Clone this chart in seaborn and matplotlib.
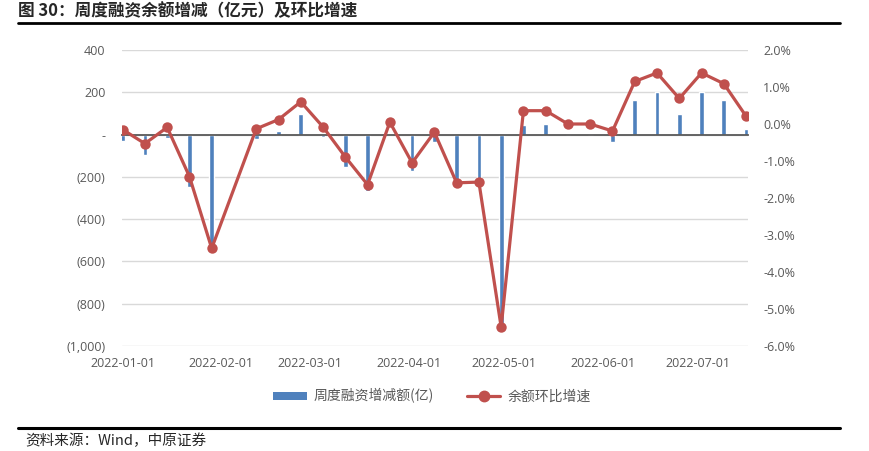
import numpy as np
import pandas as pd
import matplotlib
matplotlib.use('Agg')
import matplotlib.pyplot as plt
import matplotlib.ticker as mticker
from matplotlib.lines import Line2D
from matplotlib.patches import Patch
import seaborn as sns

# 周度数据（春节周 2022-02-05 缺失）
dates = ['2022-01-01', '2022-01-08', '2022-01-15', '2022-01-22', '2022-01-29',
         '2022-02-12', '2022-02-19', '2022-02-26', '2022-03-05', '2022-03-12',
         '2022-03-19', '2022-03-26', '2022-04-02', '2022-04-09', '2022-04-16',
         '2022-04-23', '2022-04-30', '2022-05-07', '2022-05-14', '2022-05-21',
         '2022-05-28', '2022-06-04', '2022-06-11', '2022-06-18', '2022-06-25',
         '2022-07-02', '2022-07-09', '2022-07-16']

# 周度融资增减额（亿）
change = [-30, -97, -18, -248, -560, -20, 15, 97, -13, -152,
          -269, 5, -173, -37, -228, -232, -900, 45, 50, 2,
          2, -35, 163, 200, 97, 202, 162, 27]

# 余额环比增速（%）
growth = [-0.15, -0.53, -0.09, -1.42, -3.36, -0.13, 0.12, 0.60, -0.08, -0.89,
          -1.64, 0.05, -1.05, -0.22, -1.59, -1.57, -5.49, 0.36, 0.36, 0.00,
          0.00, -0.19, 1.15, 1.38, 0.69, 1.38, 1.09, 0.21]

month_labels = ['2022-01-01', '2022-02-01', '2022-03-01', '2022-04-01',
                '2022-05-01', '2022-06-01', '2022-07-01']

left_ticks = [-1000, -800, -600, -400, -200, 0, 200, 400]
right_ticks = [-6, -5, -4, -3, -2, -1, 0, 1, 2]

BLUE = '#4F81BD'
RED = '#C0504D'
GREY = '#595959'

sns.set_style('white')
plt.rcParams['font.family'] = ['Open Sans', 'Noto Sans CJK SC', 'DejaVu Sans']
plt.rcParams['axes.unicode_minus'] = False
cjk = ['Noto Sans CJK SC', 'DejaVu Sans']

start = pd.Timestamp('2022-01-01')
df = pd.DataFrame({
    'day': (pd.to_datetime(dates) - start).days.astype(float),
    'change': change,
    'growth': np.array(growth) / 100,
})
month_days = (pd.to_datetime(month_labels) - start).days.astype(float)

W, H = 870, 451
fig = plt.figure(figsize=(W / 100, H / 100), dpi=100)
ax = fig.add_axes([122 / W, 1 - 346 / H, (748 - 122) / W, (346 - 50) / H])

# 柱状图：周度融资增减额
sns.barplot(data=df, x='day', y='change', native_scale=True, width=0.21,
            color=BLUE, saturation=1, errorbar=None, ax=ax)
ax.set_ylim(-1000, 400)
ax.set_xlim(-0.2, 196.6)
ax.set_xlabel('')
ax.set_ylabel('')


def left_fmt(v, pos):
    v = int(round(v))
    if v == 0:
        return '-'
    if v < 0:
        return f'({-v:,})'
    return f'{v:,}'


ax.set_yticks(left_ticks)
ax.yaxis.set_major_formatter(mticker.FuncFormatter(left_fmt))
ax.tick_params(axis='y', length=0, pad=12, labelsize=9, labelcolor=GREY)
ax.yaxis.grid(True, color='#D9D9D9', lw=1)
ax.xaxis.grid(False)
ax.set_axisbelow(True)
for s in ['top', 'left', 'right']:
    ax.spines[s].set_visible(False)
ax.spines['bottom'].set_position(('data', 0))
ax.spines['bottom'].set_color(GREY)
ax.spines['bottom'].set_linewidth(1.3)
ax.set_xticks(month_days)
ax.tick_params(axis='x', length=4, width=1, color=GREY, direction='out',
               labelbottom=False)

# 日期标签放在图底部
sec = ax.secondary_xaxis('bottom')
sec.set_xticks(month_days, labels=month_labels)
sec.tick_params(length=0, pad=8, labelsize=9, labelcolor=GREY)
sec.spines['bottom'].set_visible(False)

# 折线：余额环比增速
ax2 = ax.twinx()
sns.lineplot(data=df, x='day', y='growth', ax=ax2, color=RED, lw=2.3,
             marker='o', markersize=7.5, markeredgecolor=RED,
             markeredgewidth=0, legend=False)
ax2.set_ylim(-0.06, 0.02)
ax2.set_xlim(-0.2, 196.6)
ax2.set_ylabel('')
ax2.set_yticks(np.array(right_ticks) / 100)
ax2.yaxis.set_major_formatter(mticker.FuncFormatter(
    lambda v, pos: f'{round(v * 100, 1) + 0.0:.1f}%'))
ax2.tick_params(axis='y', length=0, pad=11, labelsize=9, labelcolor=GREY)
for s in ax2.spines.values():
    s.set_visible(False)

# 图例
handles = [Patch(facecolor=BLUE, edgecolor='none'),
           Line2D([], [], color=RED, lw=2.3, marker='o', markersize=7.5)]
leg = fig.legend(handles, ['周度融资增减额(亿)', '余额环比增速'],
                 loc='center', bbox_to_anchor=(432 / W, 1 - 396 / H), ncol=2,
                 frameon=False, handlelength=2.4, handleheight=0.5,
                 handletextpad=0.5, columnspacing=2.4,
                 prop={'family': cjk, 'size': 10})
for t in leg.get_texts():
    t.set_color(GREY)

# 标题、分隔线、资料来源
fig.text(18 / W, 1 - 11 / H, '图 30：周度融资余额增减（亿元）及环比增速',
         family=cjk, fontsize=12, fontweight='bold', va='center', ha='left')
fig.add_artist(Line2D([18 / W, 840 / W], [1 - 23 / H] * 2, color='black', lw=2))
fig.add_artist(Line2D([18 / W, 840 / W], [1 - 428 / H] * 2, color='black', lw=2.2))
fig.text(25 / W, 1 - 441 / H, '资料来源：Wind，中原证券',
         family=cjk, fontsize=10.5, va='center', ha='left')

fig.savefig('out.png', dpi=100)
